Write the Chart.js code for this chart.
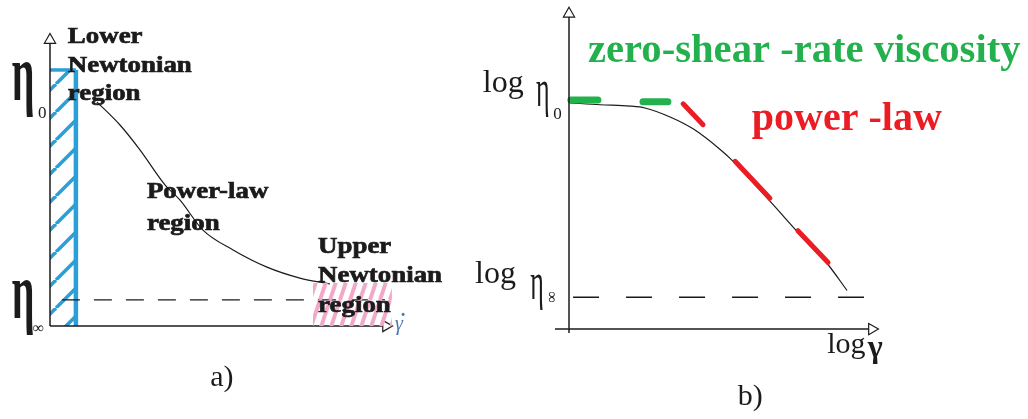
<!DOCTYPE html>
<html>
<head>
<meta charset="utf-8">
<script src="https://cdn.jsdelivr.net/npm/chart.js@4/dist/chart.umd.min.js"></script>
<style>
  html, body { margin: 0; padding: 0; background: #fff; overflow: hidden; }
  #wrap { position: relative; width: 1028px; height: 419px; }
  #chartA { position: absolute; left: 0; top: 0; }
  #chartB { position: absolute; left: 460px; top: 0; }
</style>
</head>
<body>
<div id="wrap">
  <canvas id="chartA" width="460" height="419"></canvas>
  <canvas id="chartB" width="568" height="419"></canvas>
</div>
<script>
// a) viscosity vs shear rate (linear)
const shearA = [13.4, 20, 25.7, 32.9, 37.1, 43.7, 52.3, 62, 71.4, 80];
const viscA = [75.7, 67.9, 59.5, 47.6, 42.6, 32.4, 25.7, 19.9, 16.2, 14.2];
const etaInfA = 8.8;
const etaInfSpanA = [3.4, 95.7];
const lowerBandA = [0, 7.4];
const lowerBandTopA = 86.5;
const upperBandA = [75.1, 97.7];
const upperBandTopA = 14.5;

// b) log viscosity vs log shear rate
const logShearB = [0.3, 10, 19.6, 24.4, 32.5, 39.9, 48.6, 51.8, 64.6, 75.2, 83, 89.4];
const logViscB = [70.4, 69.8, 69.4, 68.8, 66.0, 62.3, 55.9, 53.1, 39.8, 28.4, 20.4, 12.0];
const zeroShearSegs = [[0.6, 71.3, 9.3, 71.3], [23.8, 70.7, 31.8, 70.7]];
const powerLawSegs = [[36.7, 70.1, 43.1, 63.6], [53.4, 52.2, 64.6, 40.7], [73.6, 30.6, 83.3, 20.7]];
const etaInfB = 9.9;
const etaInfSpanB = [1.3, 94.9];

const lowerLabel = ['Lower', 'Newtonian', 'region'];
const powerLabel = ['Power-law', 'region'];
const upperLabel = ['Upper', 'Newtonian', 'region'];
const zeroShearLabel = 'zero-shear -rate viscosity';
const powerLawLabel = 'power -law';

const ink = '#1b1b1b';
const blue = '#2a9fd8';
const pink = '#f2a9c9';
const green = '#22b14c';
const red = '#ec1c24';
const serif = '"Liberation Serif", "Times New Roman", serif';

function hatch(w, h, color, width) {
  const c = document.createElement('canvas');
  c.width = w; c.height = h;
  const g = c.getContext('2d');
  g.strokeStyle = color;
  g.lineWidth = width;
  for (let k = -1; k <= 1; k++) {
    g.beginPath();
    g.moveTo(k * w, h);
    g.lineTo((k + 1) * w, 0);
    g.stroke();
  }
  return g.createPattern(c, 'repeat');
}

function pts(xs, ys) {
  return xs.map((x, i) => ({ x, y: ys[i] }));
}

function segs(list) {
  return list.flatMap(s => [{ x: s[0], y: s[1] }, { x: s[2], y: s[3] }, { x: s[2], y: null }]);
}

function axis(data, rot) {
  return {
    data, borderColor: ink, borderWidth: 1.5, clip: false,
    pointRadius: [0, 6.5], pointStyle: 'triangle', pointRotation: rot,
    pointBackgroundColor: '#fff', pointBorderColor: ink, pointBorderWidth: 1.2
  };
}

// text at a data position, with optional stretch / rotation / outline
function put(chart, text, x, y, font, color, o = {}) {
  const ctx = chart.ctx;
  const X = chart.scales.x.getPixelForValue(x) + (o.dx || 0);
  const Y = chart.scales.y.getPixelForValue(y) + (o.dy || 0);
  ctx.save();
  ctx.font = font;
  ctx.fillStyle = color;
  ctx.textBaseline = o.baseline || 'alphabetic';
  ctx.textAlign = o.align || 'left';
  ctx.translate(X, Y);
  if (o.rot) ctx.rotate(o.rot);
  ctx.scale(o.sx || 1, o.sy || 1);
  ctx.fillText(text, 0, 0);
  if (o.heavy) {
    ctx.strokeStyle = color;
    ctx.lineWidth = o.heavy;
    ctx.strokeText(text, 0, 0);
  }
  ctx.restore();
}

function lines(chart, list, x, y, step, font, color, sx) {
  list.forEach((t, i) => put(chart, t, x, y, font, color, { dy: i * step, sx, heavy: 0.7 }));
}

const labelsA = {
  id: 'labelsA',
  afterDatasetsDraw(chart) {
    const bold = 'bold 24px ' + serif;
    lines(chart, lowerLabel, 5.1, 95.6, 28.5, bold, ink, 1.12);
    lines(chart, powerLabel, 27.7, 43.2, 32, bold, ink, 1.12);
    lines(chart, upperLabel, 76.6, 24.7, 29.5, bold, ink, 1.12);
    put(chart, 'η', -10.9, 76.4, 'bold 40px ' + serif, ink, { sy: 2 });
    put(chart, '0', -3.4, 70.3, '17px ' + serif, ink);
    put(chart, 'η', -10.9, 2.7, 'bold 40px ' + serif, ink, { sy: 2 });
    put(chart, '∞', -4.9, -2.4, '16px ' + serif, ink);
    // shear rate symbol with its dot
    put(chart, 'γ', 98.6, -1.4, 'italic 20px ' + serif, '#4a78b0');
    put(chart, '˙', 99.9, -0.8, 'bold 20px ' + serif, '#4a78b0');
    put(chart, 'a)', 49.1, -20.3, '30px ' + serif, ink, { align: 'center' });
  }
};

const labelsB = {
  id: 'labelsB',
  afterDatasetsDraw(chart) {
    put(chart, zeroShearLabel, 6.1, 83.0, 'bold 40px ' + serif, green, { sx: 1.016 });
    put(chart, powerLawLabel, 58.8, 62.0, 'bold 40px ' + serif, red);
    put(chart, 'log', -27.7, 73.8, '32px ' + serif, ink);
    put(chart, 'η', -10.6, 69.3, '26px ' + serif, ink, { sy: 2 });
    put(chart, '0', -5.1, 65.4, '17px ' + serif, ink);
    put(chart, 'log', -30.2, 14.2, '32px ' + serif, ink);
    put(chart, 'η', -12.5, 9.4, '26px ' + serif, ink, { sy: 2 });
    put(chart, '∞', -5.8, 9.9, '16px ' + serif, ink, { rot: Math.PI / 2, align: 'center', baseline: 'middle' });
    put(chart, 'log', 83.0, -7.4, '30px ' + serif, ink);
    put(chart, 'γ', 96.1, -8.6, 'bold 32px ' + serif, ink);
    put(chart, 'b)', 54.3, -23.5, '30px ' + serif, ink);
  }
};

function baseOptions(pad, xr, yr) {
  return {
    responsive: false,
    animation: false,
    layout: { padding: pad },
    plugins: { legend: { display: false }, tooltip: { enabled: false } },
    elements: { point: { radius: 0 } },
    scales: {
      x: { type: 'linear', min: xr[0], max: xr[1], display: false },
      y: { type: 'linear', min: yr[0], max: yr[1], display: false }
    }
  };
}

new Chart(document.getElementById('chartA'), {
  type: 'line',
  data: {
    datasets: [
      {
        data: [{ x: upperBandA[0], y: upperBandTopA }, { x: upperBandA[1], y: upperBandTopA }],
        fill: 'origin', backgroundColor: hatch(10, 30, pink, 4), borderWidth: 0, clip: false
      },
      axis([{ x: 0, y: 0 }, { x: 0, y: 96.6 }], 0),
      axis([{ x: 0, y: 0 }, { x: 96, y: 0 }], 90),
      {
        data: pts(shearA, viscA), borderColor: ink, borderWidth: 1.2,
        cubicInterpolationMode: 'monotone', clip: false
      },
      {
        data: [{ x: etaInfSpanA[0], y: etaInfA }, { x: etaInfSpanA[1], y: etaInfA }],
        borderColor: ink, borderWidth: 1.3, borderDash: [18, 14], clip: false
      },
      {
        data: [{ x: lowerBandA[1], y: 0 }, { x: lowerBandA[1], y: lowerBandTopA }],
        borderColor: blue, borderWidth: 4.5, clip: false
      },
      {
        data: [{ x: lowerBandA[0], y: lowerBandTopA }, { x: lowerBandA[1], y: lowerBandTopA }],
        fill: 'origin', backgroundColor: hatch(28, 28, blue, 3.5),
        borderColor: blue, borderWidth: 3.5, clip: false
      }
    ]
  },
  options: baseOptions({ left: 50, right: 60, top: 30, bottom: 93 }, [0, 100], [0, 100]),
  plugins: [labelsA]
});

new Chart(document.getElementById('chartB'), {
  type: 'line',
  data: {
    datasets: [
      axis([{ x: 0, y: -1.2 }, { x: 0, y: 98.1 }], 0),
      axis([{ x: -4.5, y: 0 }, { x: 97.4, y: 0 }], 90),
      {
        data: segs(zeroShearSegs), borderColor: green, borderWidth: 7,
        borderCapStyle: 'round', spanGaps: false, clip: false
      },
      {
        data: segs(powerLawSegs), borderColor: red, borderWidth: 5,
        borderCapStyle: 'round', spanGaps: false, clip: false
      },
      {
        data: pts(logShearB, logViscB), borderColor: ink, borderWidth: 1.2,
        cubicInterpolationMode: 'monotone', clip: false
      },
      {
        data: [{ x: etaInfSpanB[0], y: etaInfB }, { x: etaInfSpanB[1], y: etaInfB }],
        borderColor: ink, borderWidth: 1.3, borderDash: [26, 27], clip: false
      }
    ]
  },
  options: baseOptions({ left: 93.45, right: 148, top: 5, bottom: 83.52 }, [-5, 100], [-2, 100]),
  plugins: [labelsB]
});
</script>
</body>
</html>
